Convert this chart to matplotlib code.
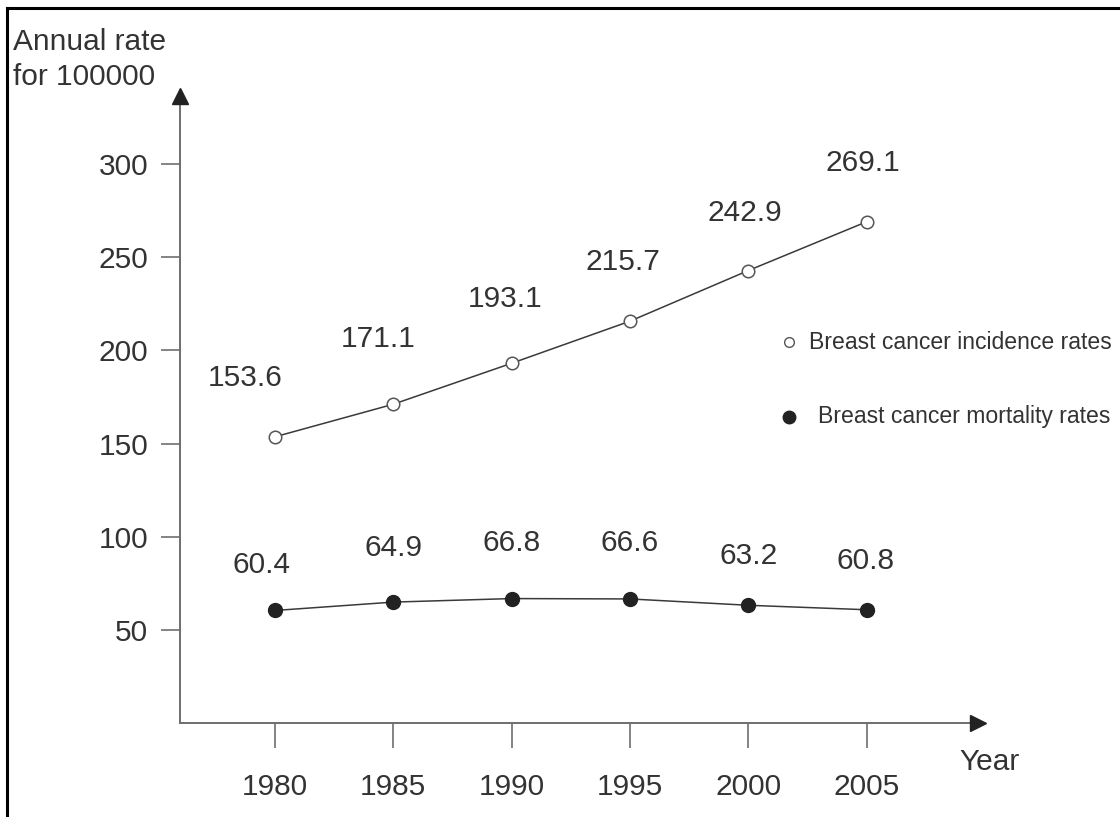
import matplotlib.pyplot as plt
from matplotlib.lines import Line2D

plt.rcParams['font.family'] = ['Liberation Sans', 'DejaVu Sans']

years = [1980, 1985, 1990, 1995, 2000, 2005]
incidence = [153.6, 171.1, 193.1, 215.7, 242.9, 269.1]
mortality = [60.4, 64.9, 66.8, 66.6, 63.2, 60.8]
y_ticks = [50, 100, 150, 200, 250, 300]

# label offsets in pixels (dx, dy) from each point
inc_offsets = [(-30, 59), (-15, 65), (-6, 64), (-7, 59), (-3, 58), (-4, 59)]
mort_offsets = [(-13, 45), (0, 54), (0, 56), (0, 56), (0, 49), (-1, 49)]

text_color = '#333333'
axis_color = '#6e6e6e'
line_color = '#3a3a3a'
big = 21.5

fig = plt.figure(figsize=(11.2, 8.17), dpi=100)
ax = fig.add_axes([180 / 1120, 94 / 817, 798 / 1120, 627 / 817])
ax.set_xlim(1976, 2009.7)
ax.set_ylim(0, 336.6)

for s in ['top', 'right']:
    ax.spines[s].set_visible(False)
for s in ['left', 'bottom']:
    ax.spines[s].set_color(axis_color)
    ax.spines[s].set_linewidth(1.4)

# arrow heads on axes
ax.plot(1, 0, '>', color='#222222', markersize=11, transform=ax.transAxes,
        clip_on=False, zorder=5)
ax.plot(0, 1, '^', color='#222222', markersize=11, transform=ax.transAxes,
        clip_on=False, zorder=5)

ax.set_xticks(years)
ax.set_xticklabels([str(y) for y in years])
ax.set_yticks(y_ticks)
ax.tick_params(axis='x', length=18, width=1.2, color=axis_color, pad=18,
               labelsize=big, labelcolor=text_color)
ax.tick_params(axis='y', length=14, width=1.2, color=axis_color, pad=9,
               labelsize=big, labelcolor=text_color)

ax.plot(years, incidence, '-o', color=line_color, lw=1.1, markersize=9,
        markerfacecolor='white', markeredgecolor='#555555', markeredgewidth=1.1)
ax.plot(years, mortality, '-o', color=line_color, lw=1.1, markersize=10,
        markerfacecolor='#222222', markeredgecolor='#222222')

for x, v, (dx, dy) in zip(years, incidence, inc_offsets):
    ax.annotate(f'{v}', (x, v), xytext=(dx * 0.72, dy * 0.72), textcoords='offset points',
                ha='center', va='center', fontsize=big, color=text_color)
for x, v, (dx, dy) in zip(years, mortality, mort_offsets):
    ax.annotate(f'{v}', (x, v), xytext=(dx * 0.72, dy * 0.72), textcoords='offset points',
                ha='center', va='center', fontsize=big, color=text_color)

# legend drawn as text with markers
fig.add_artist(Line2D([789 / 1120], [1 - 342 / 817], marker='o', markersize=7,
                      markerfacecolor='white', markeredgecolor='#555555', markeredgewidth=1.0))
fig.add_artist(Line2D([789 / 1120], [1 - 417 / 817], marker='o', markersize=9,
                      markerfacecolor='#222222', markeredgecolor='#222222'))
fig.text(809 / 1120, 1 - 342 / 817, 'Breast cancer incidence rates', fontsize=16.6,
         color=text_color, va='center', ha='left')
fig.text(818 / 1120, 1 - 417 / 817, 'Breast cancer mortality rates', fontsize=16.6,
         color=text_color, va='center', ha='left')

fig.text(13 / 1120, 1 - 42 / 817, 'Annual rate', fontsize=big, color=text_color,
         va='center', ha='left')
fig.text(13 / 1120, 1 - 77 / 817, 'for 100000', fontsize=big, color=text_color,
         va='center', ha='left')
fig.text(959 / 1120, 1 - 762 / 817, 'Year', fontsize=big, color=text_color,
         va='center', ha='left')

# outer frame (top and left only)
fig.add_artist(Line2D([7 / 1120, 1], [1 - 8 / 817, 1 - 8 / 817], color='black', lw=2.2))
fig.add_artist(Line2D([7 / 1120, 7 / 1120], [0, 1 - 8 / 817], color='black', lw=2.2))

fig.savefig('out.png', dpi=100)
